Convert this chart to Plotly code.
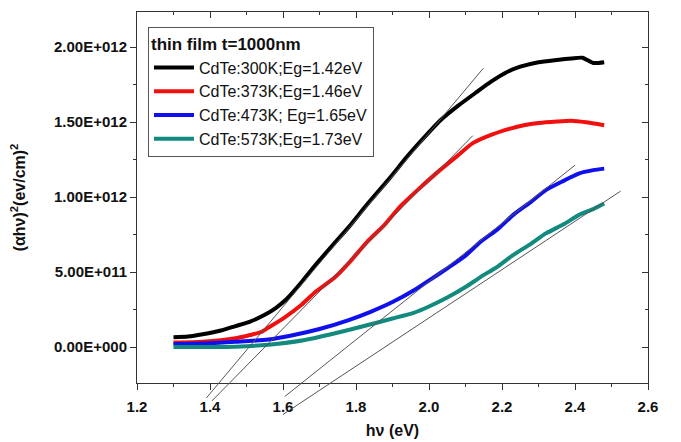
import plotly.graph_objects as go

# ---- data (values in units of 1e12 (eV/cm)^2) ----
x_300 = [1.30, 1.34, 1.38, 1.43, 1.47, 1.51, 1.55, 1.58, 1.61, 1.65, 1.69, 1.74, 1.78, 1.83,
         1.89, 1.94, 1.98, 2.03, 2.08, 2.13, 2.17, 2.21, 2.25, 2.30, 2.35, 2.39, 2.42, 2.45, 2.48]
y_300 = [0.065, 0.07, 0.085, 0.11, 0.14, 0.17, 0.215, 0.26, 0.32, 0.43, 0.55, 0.69, 0.80, 0.95,
         1.12, 1.27, 1.38, 1.51, 1.61, 1.70, 1.77, 1.83, 1.87, 1.90, 1.915, 1.925, 1.93, 1.895, 1.90]

x_373 = [1.30, 1.38, 1.47, 1.51, 1.54, 1.56, 1.60, 1.65, 1.69, 1.74, 1.78, 1.83, 1.88, 1.92,
         1.97, 2.03, 2.08, 2.12, 2.17, 2.22, 2.26, 2.30, 2.35, 2.39, 2.43, 2.48]
y_373 = [0.03, 0.035, 0.058, 0.08, 0.10, 0.13, 0.19, 0.28, 0.37, 0.46, 0.56, 0.70, 0.82, 0.935,
         1.05, 1.18, 1.28, 1.36, 1.415, 1.455, 1.48, 1.495, 1.505, 1.51, 1.50, 1.48]

x_473 = [1.30, 1.40, 1.47, 1.56, 1.62, 1.70, 1.78, 1.84, 1.90, 1.96, 2.01, 2.05, 2.10,
         2.14, 2.19, 2.23, 2.28, 2.32, 2.37, 2.41, 2.45, 2.48]
y_473 = [0.02, 0.025, 0.035, 0.05, 0.075, 0.12, 0.18, 0.235, 0.30, 0.38, 0.46, 0.525, 0.61,
         0.70, 0.79, 0.88, 0.97, 1.047, 1.11, 1.157, 1.18, 1.19]

x_573 = [1.30, 1.40, 1.47, 1.56, 1.66, 1.74, 1.83, 1.90, 1.96, 2.00, 2.05, 2.10, 2.14, 2.19,
         2.23, 2.28, 2.32, 2.37, 2.41, 2.45, 2.48]
y_573 = [0.0, 0.0, 0.002, 0.015, 0.047, 0.09, 0.145, 0.19, 0.23, 0.27, 0.33, 0.40, 0.465, 0.54,
         0.613, 0.69, 0.758, 0.82, 0.88, 0.92, 0.957]

series_names = ["CdTe:300K;Eg=1.42eV", "CdTe:373K;Eg=1.46eV",
                "CdTe:473K; Eg=1.65eV", "CdTe:573K;Eg=1.73eV"]
series_colors = ["#000000", "#f01010", "#1010ee", "#128a7e"]

# tangent (Tauc extrapolation) lines: endpoints (x, y) in same units
tan_x = [[1.39, 2.149], [1.405, 2.12], [1.605, 2.40], [1.60, 2.525]]
tan_y = [[-0.34, 1.86], [-0.36, 1.41], [-0.33, 1.213], [-0.45, 1.04]]

x_ticks = [1.2, 1.4, 1.6, 1.8, 2.0, 2.2, 2.4, 2.6]
x_minor = [1.3, 1.5, 1.7, 1.9, 2.1, 2.3, 2.5]
y_ticks = [0.0, 0.5, 1.0, 1.5, 2.0]
y_minor = [0.25, 0.75, 1.25, 1.75]
y_tick_text = ["0.00E+000", "5.00E+011", "1.00E+012", "1.50E+012", "2.00E+012"]
SCALE = 1e12

# ---- layout geometry ----
W, H = 681, 442
M_L, M_R, M_T, M_B = 137, 33, 12, 25
FRAME_BOTTOM_PX = 383          # where the visible x axis sits
area_h = H - M_T - M_B
dom_bottom = (H - M_B - FRAME_BOTTOM_PX) / area_h
xr = [1.2, 2.6]
y_lo, y_hi = -0.24, 2.235
yr = [y_lo * SCALE, y_hi * SCALE]
per_px = (y_hi - y_lo) / (area_h * (1 - dom_bottom))
yr_ext = [(y_lo - per_px * (H - M_B - FRAME_BOTTOM_PX)) * SCALE, y_hi * SCALE]

fig = go.Figure()
for xs, ys, name, col in zip([x_300, x_373, x_473, x_573], [y_300, y_373, y_473, y_573],
                             series_names, series_colors):
    fig.add_trace(go.Scatter(x=xs, y=[v * SCALE for v in ys], mode="lines", name=name,
                             line=dict(color=col, width=4, shape="spline", smoothing=0.6)))

# dummy trace for the mirrored (top/right) axes
fig.add_trace(go.Scatter(x=[x_ticks[0]], y=[y_ticks[0] * SCALE], xaxis="x2", yaxis="y2",
                         mode="markers", marker=dict(opacity=0), showlegend=False,
                         hoverinfo="skip"))

# tangent lines live on an overlapping subplot that extends below the frame
for tx, ty in zip(tan_x, tan_y):
    fig.add_trace(go.Scatter(x=tx, y=[v * SCALE for v in ty], mode="lines", showlegend=False,
                             xaxis="x3", yaxis="y3",
                             line=dict(color="#555555", width=1), hoverinfo="skip"))

font_family = "Liberation Sans, Arial, sans-serif"
axis_col = "#333333"

fig.update_layout(
    width=W, height=H,
    margin=dict(l=M_L, r=M_R, t=M_T, b=M_B),
    paper_bgcolor="white", plot_bgcolor="rgba(0,0,0,0)",
    font=dict(family=font_family, color="#111111"),
    showlegend=True,
    legend=dict(
        x=0.0215, y=0.962, xanchor="left", yanchor="top",
        bgcolor="white", bordercolor="#555555", borderwidth=1,
        font=dict(size=16, family=font_family, color="#111111"),
        title=dict(text="<b>thin film t=1000nm</b>", font=dict(size=17, family=font_family)),
        itemwidth=40, tracegroupgap=0,
    ),
    xaxis=dict(
        range=xr, domain=[0, 1], anchor="y", showgrid=False, zeroline=False,
        showline=True, linecolor=axis_col, linewidth=1, automargin=False,
        tickmode="array", tickvals=x_ticks, ticktext=["<b>%.1f</b>" % v for v in x_ticks],
        ticks="outside", ticklen=6, tickcolor=axis_col,
        minor=dict(tickvals=x_minor, ticks="outside", ticklen=3, tickcolor=axis_col),
        tickfont=dict(size=15, family=font_family, color="#111111"),
        ticklabelstandoff=4,
        title=dict(text="<b>hν (eV)</b>", font=dict(size=16, family=font_family), standoff=10),
    ),
    yaxis=dict(
        range=yr, domain=[dom_bottom, 1], anchor="x", showgrid=False, zeroline=False,
        showline=True, linecolor=axis_col, linewidth=1, automargin=False,
        tickmode="array", tickvals=[v * SCALE for v in y_ticks],
        ticktext=["<b>%s</b>" % t for t in y_tick_text],
        ticks="outside", ticklen=6, tickcolor=axis_col,
        minor=dict(tickvals=[v * SCALE for v in y_minor], ticks="outside", ticklen=3,
                   tickcolor=axis_col),
        tickfont=dict(size=15, family=font_family, color="#111111"),
        title=dict(text="<b>(αhν)<sup>2</sup>(ev/cm)<sup>2</sup></b>",
                   font=dict(size=16, family=font_family), standoff=24),
    ),
    xaxis2=dict(
        overlaying="x", side="top", range=xr, showgrid=False, zeroline=False,
        showline=True, linecolor=axis_col, linewidth=1,
        tickmode="array", tickvals=x_ticks, ticks="inside", ticklen=6, tickcolor=axis_col,
        minor=dict(tickvals=x_minor, ticks="inside", ticklen=3, tickcolor=axis_col),
        showticklabels=False,
    ),
    yaxis2=dict(
        overlaying="y", side="right", range=yr, showgrid=False, zeroline=False,
        showline=True, linecolor=axis_col, linewidth=1,
        tickmode="array", tickvals=[v * SCALE for v in y_ticks], ticks="inside", ticklen=6,
        tickcolor=axis_col,
        minor=dict(tickvals=[v * SCALE for v in y_minor], ticks="inside", ticklen=3,
                   tickcolor=axis_col),
        showticklabels=False,
    ),
    xaxis3=dict(range=xr, domain=[0, 1], anchor="y3", visible=False),
    yaxis3=dict(range=yr_ext, domain=[0, 1], anchor="x3", visible=False),
)

fig.write_html("out.html")
